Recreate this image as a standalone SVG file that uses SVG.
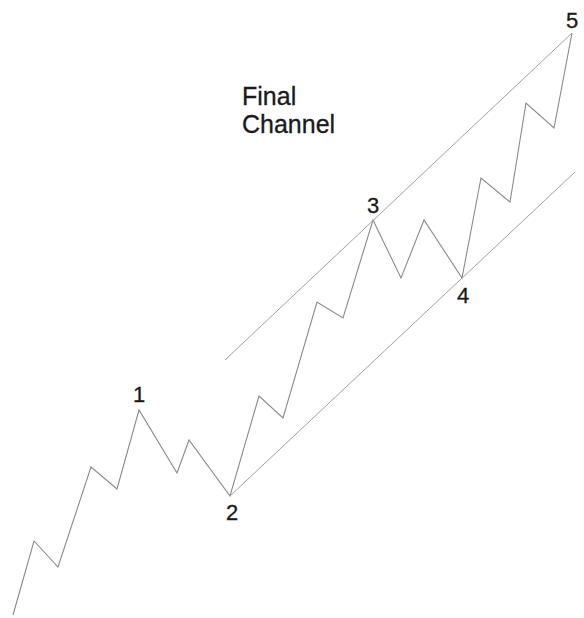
<svg xmlns="http://www.w3.org/2000/svg" width="584" height="618" viewBox="0 0 584 618">
<style>
.wave{fill:none;stroke:#8a8a8a;stroke-width:1.1;stroke-linejoin:miter}
.chan{fill:none;stroke:#a0a0a0;stroke-width:1}
.lbl{font-family:"Liberation Sans",Arial,sans-serif;font-size:22px;fill:#1a1a1a;stroke:#1a1a1a;stroke-width:0.3;text-anchor:middle}
.title{font-family:"Liberation Sans",Arial,sans-serif;font-size:25px;fill:#1a1a1a;stroke:#1a1a1a;stroke-width:0.3}
</style>
<rect width="584" height="618" fill="#ffffff"/>
<g id="connectors">
<polyline class="wave" points="13,615 34,541 58,567 91,467 117,489 139,410 177,473 189,440 230,496 259,396 283,418 317,302 343,318 373,220 401,278 424,220 462,278 481,178 510,202 526,103 554,128 572,33"/>
<line id="upper-channel" class="chan" x1="225" y1="360" x2="572" y2="33"/>
<line id="lower-channel" class="chan" x1="230" y1="496" x2="575" y2="172"/>
</g>
<g id="title"><text class="title" x="242" y="105">Final</text><text class="title" x="242" y="133">Channel</text></g>
<g id="p1"><text class="lbl" x="139" y="402">1</text></g>
<g id="p2"><text class="lbl" x="232" y="520">2</text></g>
<g id="p3"><text class="lbl" x="373" y="213">3</text></g>
<g id="p4"><text class="lbl" x="463" y="303">4</text></g>
<g id="p5"><text class="lbl" x="572" y="28">5</text></g>
</svg>
